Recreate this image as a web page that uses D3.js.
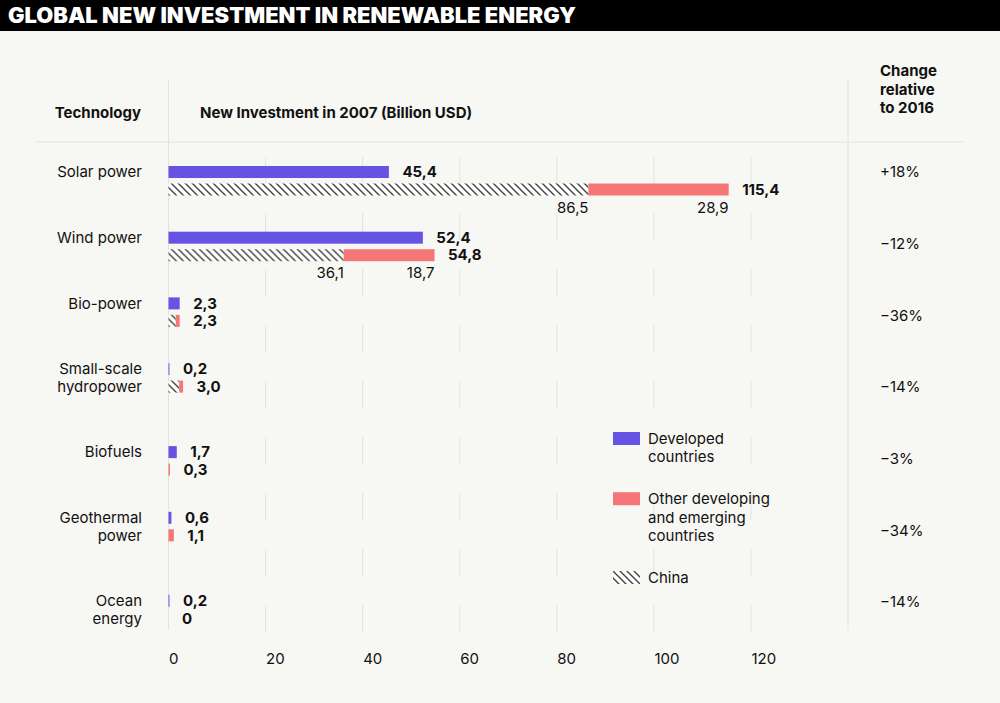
<!DOCTYPE html>
<html>
<head>
<meta charset="utf-8">
<script src="https://cdn.jsdelivr.net/npm/d3@7"></script>
<style>
  html, body { margin: 0; padding: 0; background: #f7f7f3; }
  svg text { font-family: Inter, "Noto Sans", sans-serif; fill: #111; }
</style>
</head>
<body>
<svg id="chart"></svg>
<script>
// chart data
var categories = [["Solar power"], ["Wind power"], ["Bio-power"], ["Small-scale", "hydropower"],
                  ["Biofuels"], ["Geothermal", "power"], ["Ocean", "energy"]];
var developed = [45.4, 52.4, 2.3, 0.2, 1.7, 0.6, 0.2];
var china = [86.5, 36.1, 1.5, 2.2, 0, 0, 0];
var otherDeveloping = [28.9, 18.7, 0.8, 0.8, 0.3, 1.1, 0];
var developingTotal = [115.4, 54.8, 2.3, 3.0, 0.3, 1.1, 0];
var changes = ["+18%", "\u221212%", "\u221236%", "\u221214%", "\u22123%", "\u221234%", "\u221214%"];
var xTicks = [0, 20, 40, 60, 80, 100, 120];
var legendItems = [["Developed", "countries"], ["Other developing", "and emerging", "countries"], ["China"]];

var width = 1000, height = 703;
var purple = "#6753e3", salmon = "#f57676", grid = "#e2e2de";

var svg = d3.select("#chart").attr("width", width).attr("height", height);
svg.append("rect").attr("width", width).attr("height", height).attr("fill", "#f7f7f3");

// hatch pattern for China
var pat = svg.append("defs").append("pattern")
    .attr("id", "hatch").attr("patternUnits", "userSpaceOnUse")
    .attr("width", 7).attr("height", 7);
pat.append("rect").attr("width", 7).attr("height", 7).attr("fill", "#fff");
pat.append("path")
    .attr("d", "M-1,-1 L8,8 M-1,6 L1,8 M6,-1 L8,1")
    .attr("stroke", "#444").attr("stroke-width", 1.4);

// title bar
svg.append("rect").attr("width", width).attr("height", 31).attr("fill", "#000");
svg.append("text")
    .attr("x", 8).attr("y", 23)
    .attr("textLength", 568).attr("lengthAdjust", "spacingAndGlyphs")
    .style("font-size", "21px").style("font-weight", 900).style("fill", "#fff")
    .text("GLOBAL NEW INVESTMENT IN RENEWABLE ENERGY");

var x = d3.scaleLinear().domain([0, 120]).range([168.5, 751]);

// row tops: two-line labels take more room
var tops = [], yy = 166;
categories.forEach(function(c) { tops.push(yy); yy += c.length > 1 ? 83 : 65.7; });
var barH = 12, barGap = 17.5;

// change column is spaced evenly
var yChange = d3.scalePoint().domain(d3.range(categories.length)).range([172, 602]);

var fmt = function(v) { return v === 0 ? "0" : d3.format(".1f")(v).replace(".", ","); };

// header
svg.append("line").attr("x1", 35).attr("x2", 963).attr("y1", 142).attr("y2", 142)
    .attr("stroke", grid);
svg.append("line").attr("x1", x(0)).attr("x2", x(0)).attr("y1", 80).attr("y2", 630)
    .attr("stroke", grid);
svg.append("line").attr("x1", 848).attr("x2", 848).attr("y1", 79).attr("y2", 630)
    .attr("stroke", grid);

svg.append("text").attr("x", 141).attr("y", 113).attr("dy", "0.35em")
    .attr("text-anchor", "end").style("font-size", "15px").style("font-weight", 700)
    .text("Technology");
svg.append("text").attr("x", 200).attr("y", 113).attr("dy", "0.35em")
    .style("font-size", "15px").style("font-weight", 700)
    .text("New Investment in 2007 (Billion USD)");
svg.append("text").attr("x", 880).attr("y", 76).attr("dy", "0.35em")
    .style("font-size", "15px").style("font-weight", 700)
    .selectAll("tspan").data(["Change", "relative", "to 2016"]).enter().append("tspan")
    .attr("x", 880).attr("dy", function(d, i) { return i ? 18.7 : 0; })
    .text(function(d) { return d; });

// dashed gridlines
svg.selectAll(".grid").data(xTicks.slice(1)).enter().append("line")
    .attr("class", "grid")
    .attr("x1", function(d) { return x(d); }).attr("x2", function(d) { return x(d); })
    .attr("y1", 157).attr("y2", 632)
    .attr("stroke", grid).attr("stroke-dasharray", "27,29");

// x axis
var axis = svg.append("g").attr("transform", "translate(0,650)")
    .call(d3.axisBottom(x).tickValues(xTicks).tickSize(0).tickPadding(0));
axis.select(".domain").remove();
axis.selectAll("text")
    .attr("text-anchor", "start").attr("dy", "0.35em").attr("y", 9)
    .style("font-size", "15px").style("font-family", "Inter, sans-serif").style("fill", "#111");

var rows = svg.selectAll(".row").data(categories).enter().append("g")
    .attr("class", "row")
    .attr("transform", function(d, i) { return "translate(0," + tops[i] + ")"; });

// category labels
rows.append("text")
    .attr("text-anchor", "end").style("font-size", "15px")
    .selectAll("tspan").data(function(d) { return d; }).enter().append("tspan")
    .attr("x", 142)
    .attr("y", function(d, j) { return barH / 2 + j * barGap; })
    .attr("dy", "0.35em")
    .text(function(d) { return d; });

// developed bars
rows.append("rect")
    .attr("x", x(0)).attr("y", 0).attr("height", barH)
    .attr("width", function(d, i) { return x(developed[i]) - x(0); })
    .attr("fill", purple);
rows.append("text")
    .attr("x", function(d, i) { return x(developed[i]) + 13.5; })
    .attr("y", barH / 2).attr("dy", "0.35em")
    .style("font-size", "15px").style("font-weight", 700)
    .text(function(d, i) { return fmt(developed[i]); });

// china (hatched) and other developing bars
rows.append("rect")
    .attr("x", x(0)).attr("y", barGap).attr("height", barH)
    .attr("width", function(d, i) { return x(china[i]) - x(0); })
    .attr("fill", "url(#hatch)");
rows.append("rect")
    .attr("x", function(d, i) { return x(china[i]); }).attr("y", barGap).attr("height", barH)
    .attr("width", function(d, i) { return x(china[i] + otherDeveloping[i]) - x(china[i]); })
    .attr("fill", salmon);
rows.append("text")
    .attr("x", function(d, i) { return x(developingTotal[i]) + 13.5; })
    .attr("y", barGap + barH / 2).attr("dy", "0.35em")
    .style("font-size", "15px").style("font-weight", 700)
    .text(function(d, i) { return fmt(developingTotal[i]); });

// split labels under the big bars
rows.filter(function(d, i) { return china[i] >= 10; }).each(function(d) {
    var i = categories.indexOf(d), g = d3.select(this);
    g.append("text").attr("x", x(china[i])).attr("y", barGap + barH + 12).attr("dy", "0.35em")
        .attr("text-anchor", "end").style("font-size", "15px").text(fmt(china[i]));
    g.append("text").attr("x", x(developingTotal[i])).attr("y", barGap + barH + 12).attr("dy", "0.35em")
        .attr("text-anchor", "end").style("font-size", "15px").text(fmt(otherDeveloping[i]));
});

// change column
svg.selectAll(".change").data(changes).enter().append("text")
    .attr("class", "change")
    .attr("x", 880).attr("y", function(d, i) { return yChange(i); }).attr("dy", "0.35em")
    .style("font-size", "15px")
    .text(function(d) { return d; });

// legend
var ly = 432;
legendItems.forEach(function(lines, k) {
    var g = svg.append("g").attr("transform", "translate(613," + ly + ")");
    g.append("rect").attr("width", 27).attr("height", 13)
        .attr("fill", k === 0 ? purple : k === 1 ? salmon : "url(#hatch)");
    g.append("text").style("font-size", "15px")
        .selectAll("tspan").data(lines).enter().append("tspan")
        .attr("x", 35).attr("y", function(d, j) { return 6.5 + j * 18.6; }).attr("dy", "0.35em")
        .text(function(d) { return d; });
    ly += lines.length * 18.6 + 23;
});
</script>
</body>
</html>
